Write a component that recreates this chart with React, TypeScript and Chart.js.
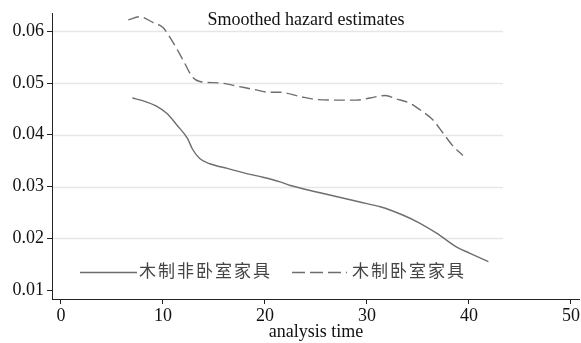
import React, { useEffect, useRef } from "react";
import { Chart, registerables } from "chart.js";

Chart.register(...registerables);

// ---- Data ----
const nonBedroomTime = [7.0, 8.0, 9.4, 10.4, 11.4, 12.4, 12.9, 13.6, 14.6, 16.3, 18.2, 19.8, 21.5, 22.5, 25.4, 29.3, 31.3, 33.5, 35.2, 36.9, 38.8, 40.1, 41.9];
const nonBedroomHazard = [0.0471, 0.0466, 0.0455, 0.0441, 0.0418, 0.0393, 0.0372, 0.0354, 0.0344, 0.0335, 0.0325, 0.0318, 0.0309, 0.0302, 0.0288, 0.0270, 0.0261, 0.0245, 0.0229, 0.0209, 0.0183, 0.0171, 0.0155];

const bedroomTime = [6.6, 7.75, 9.0, 10.0, 11.0, 12.0, 12.9, 13.6, 15.6, 17.5, 18.8, 20.5, 21.5, 23.4, 25.1, 27.0, 29.0, 30.3, 31.8, 32.9, 34.2, 35.5, 36.5, 37.5, 38.4, 39.4];
const bedroomHazard = [0.0622, 0.0628, 0.0617, 0.0607, 0.0578, 0.0543, 0.0511, 0.0503, 0.0500, 0.0493, 0.0488, 0.0482, 0.0482, 0.0474, 0.0468, 0.0467, 0.0467, 0.0471, 0.0476, 0.0469, 0.0461, 0.0444, 0.0428, 0.0402, 0.0379, 0.0360];

const seriesLabels = ["木制非卧室家具", "木制卧室家具"];
const xTicks = [0, 10, 20, 30, 40, 50];
const yTicks = [0.01, 0.02, 0.03, 0.04, 0.05, 0.06];
const gridTicks = [0.02, 0.03, 0.04, 0.05, 0.06];
const chartTitle = "Smoothed hazard estimates";
const xAxisTitle = "analysis time";

const SERIF = "'Liberation Serif', 'DejaVu Serif', serif";
const CJK = "'Noto Sans CJK SC', 'Noto Sans', sans-serif";
const LINE_COLOR = "#6e6e6e";
const AXIS_COLOR = "#222";

const gridPlugin = {
  id: "stataGrid",
  beforeDatasetsDraw(chart: any) {
    const { ctx, chartArea, scales } = chart;
    const y = scales.y;
    const right = chartArea.left + (chartArea.right - chartArea.left) * 0.854;
    ctx.save();
    ctx.strokeStyle = "#e6e6e6";
    ctx.lineWidth = 1.3;
    gridTicks.forEach((v) => {
      const py = Math.round(y.getPixelForValue(v)) + 0.5;
      ctx.beginPath();
      ctx.moveTo(chartArea.left + 1, py);
      ctx.lineTo(right, py);
      ctx.stroke();
    });
    ctx.restore();
  },
};

const titlePlugin = {
  id: "stataTitle",
  afterDraw(chart: any) {
    const { ctx, chartArea } = chart;
    const w = chartArea.right - chartArea.left;
    ctx.save();
    ctx.font = `18px ${SERIF}`;
    ctx.fillStyle = "#111";
    ctx.textAlign = "center";
    ctx.textBaseline = "alphabetic";
    ctx.fillText(chartTitle, chartArea.left + w * 0.481, chartArea.top + 11);
    ctx.restore();
  },
};

const legendPlugin = {
  id: "stataLegend",
  afterDraw(chart: any) {
    const { ctx, chartArea } = chart;
    const y = chartArea.bottom - 27;
    let x = chartArea.left + 28;
    ctx.save();
    ctx.font = `17px ${CJK}`;
    (ctx as any).letterSpacing = "2px";
    ctx.textBaseline = "middle";
    ctx.textAlign = "left";
    chart.data.datasets.forEach((ds: any, i: number) => {
      const sampleLen = i === 0 ? 57 : 55;
      ctx.strokeStyle = ds.borderColor;
      ctx.lineWidth = ds.borderWidth;
      ctx.setLineDash(i === 0 ? [] : [13, 5]);
      ctx.beginPath();
      ctx.moveTo(x, y + 0.5);
      ctx.lineTo(x + sampleLen, y + 0.5);
      ctx.stroke();
      ctx.setLineDash([]);
      x += sampleLen + (i === 0 ? 2 : 5);
      ctx.fillStyle = "#444";
      ctx.fillText(ds.label, x, y - 1);
      x += ctx.measureText(ds.label).width + 20;
    });
    ctx.restore();
  },
};

export default function App() {
  const canvasRef = useRef<HTMLCanvasElement | null>(null);

  useEffect(() => {
    const canvas = canvasRef.current;
    if (!canvas) return;
    const chart = new Chart(canvas, {
      type: "line",
      data: {
        datasets: [
          {
            label: seriesLabels[0],
            data: nonBedroomTime.map((t, i) => ({ x: t, y: nonBedroomHazard[i] })),
            borderColor: LINE_COLOR,
            borderWidth: 1.4,
            pointRadius: 0,
            cubicInterpolationMode: "monotone",
            fill: false,
          },
          {
            label: seriesLabels[1],
            data: bedroomTime.map((t, i) => ({ x: t, y: bedroomHazard[i] })),
            borderColor: LINE_COLOR,
            borderWidth: 1.4,
            borderDash: [11, 5],
            pointRadius: 0,
            cubicInterpolationMode: "monotone",
            fill: false,
          },
        ],
      },
      options: {
        responsive: false,
        animation: false,
        layout: { padding: { top: 13, right: 1, left: 0, bottom: 0 } },
        plugins: {
          legend: { display: false },
          title: { display: false },
          tooltip: { enabled: false },
        },
        scales: {
          x: {
            type: "linear",
            min: -0.88,
            max: 50.88,
            afterBuildTicks: (scale: any) => {
              scale.ticks = xTicks.map((v) => ({ value: v }));
            },
            afterFit: (scale: any) => {
              scale.height = 44;
            },
            ticks: {
              color: "#111",
              font: { family: SERIF, size: 18, lineHeight: 1.2 },
              padding: 1,
              maxRotation: 0,
              autoSkip: false,
              callback: (v: any) => String(v),
            },
            grid: {
              display: true,
              drawOnChartArea: false,
              drawTicks: true,
              tickLength: 5,
              tickColor: AXIS_COLOR,
              tickWidth: 1,
            },
            border: { display: true, color: AXIS_COLOR, width: 1 },
            title: {
              display: true,
              text: xAxisTitle,
              color: "#111",
              font: { family: SERIF, size: 18, lineHeight: 1.2 },
              padding: { top: 0, bottom: 0 },
            },
          },
          y: {
            type: "linear",
            min: 0.00827,
            max: 0.06337,
            afterBuildTicks: (scale: any) => {
              scale.ticks = yTicks.map((v) => ({ value: v }));
            },
            afterFit: (scale: any) => {
              scale.width = 52;
            },
            ticks: {
              color: "#111",
              font: { family: SERIF, size: 18 },
              padding: 3,
              autoSkip: false,
              callback: (v: any) => Number(v).toFixed(2),
            },
            grid: {
              display: true,
              drawOnChartArea: false,
              drawTicks: true,
              tickLength: 5,
              tickColor: AXIS_COLOR,
              tickWidth: 1,
            },
            border: { display: true, color: AXIS_COLOR, width: 1 },
          },
        },
      },
      plugins: [gridPlugin, titlePlugin, legendPlugin],
    } as any);
    return () => chart.destroy();
  }, []);

  return (
    <div style={{ position: "absolute", left: 0, top: 0, width: 581, height: 343, background: "#fff" }}>
      <canvas ref={canvasRef} width={581} height={343} />
    </div>
  );
}
